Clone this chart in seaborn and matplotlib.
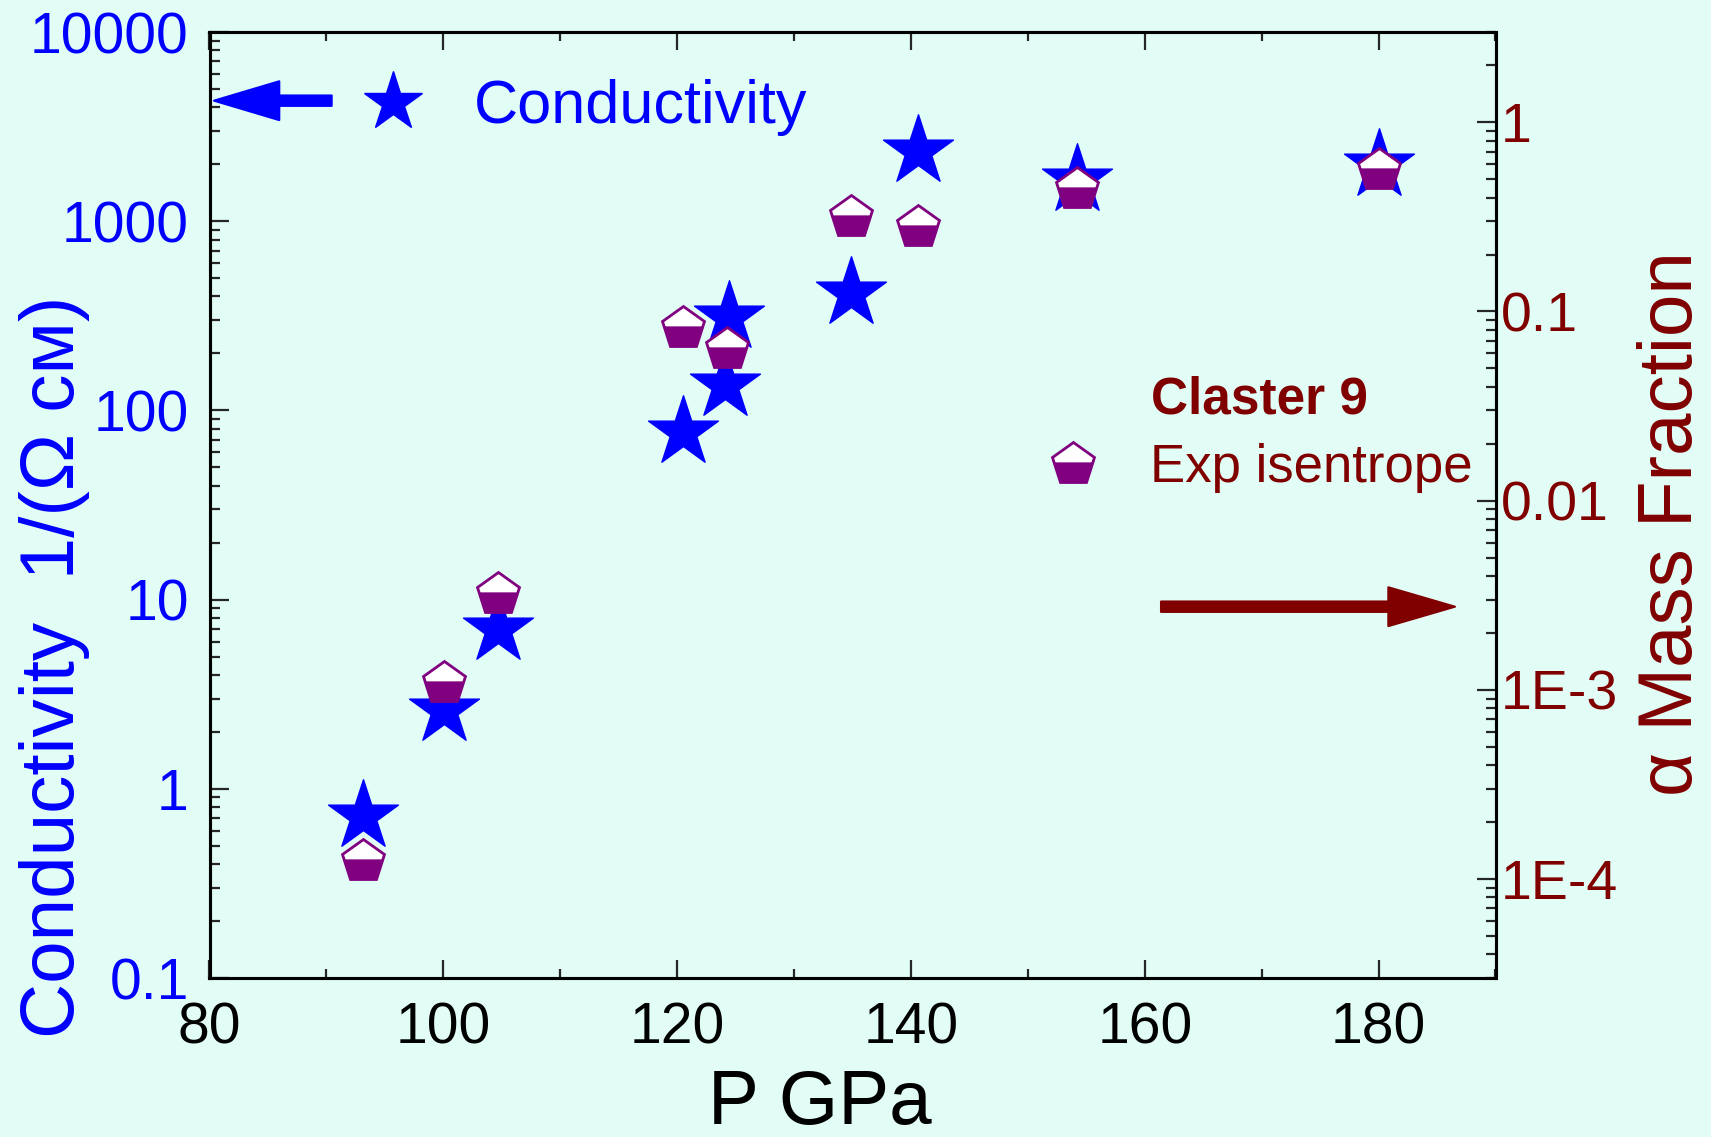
import matplotlib
matplotlib.use("Agg")
import matplotlib.pyplot as plt
from matplotlib.lines import Line2D
from matplotlib.path import Path
from matplotlib.ticker import FixedLocator, FixedFormatter, LogLocator, NullFormatter, MultipleLocator
import pandas as pd
import seaborn as sns

# Conductivity measurements (left axis)
pressure_cond = [93.1, 100.1, 104.7, 120.5, 124.1, 124.4, 134.9, 140.6, 154.2, 180.0]
conductivity = [0.72, 2.6, 7.0, 77, 136, 310, 415, 2350, 1650, 1990]

# Alpha mass fraction along the experimental isentrope (right axis)
pressure_alpha = [93.1, 100.1, 104.7, 120.5, 124.3, 134.9, 140.6, 154.2, 180.0]
alpha_fraction = [1.24e-4, 1.09e-3, 3.2e-3, 0.082, 0.063, 0.317, 0.281, 0.444, 0.559]

left_ticks = [0.1, 1, 10, 100, 1000, 10000]
left_tick_labels = ["0.1", "1", "10", "100", "1000", "10000"]
right_ticks = [1e-4, 1e-3, 1e-2, 0.1, 1]
right_tick_labels = ["1E-4", "1E-3", "0.01", "0.1", "1"]
x_ticks = [80, 100, 120, 140, 160, 180]

BG = "#E2FDF6"
BLUE = "#0000FF"
DARKRED = "#800000"
PURPLE = "#800080"

# Lower part of a regular pentagon (same frame as the 'p' marker), split just
# above its centre; the lone MOVETO to (0, 1) keeps the marker scaling equal
# to that of the full pentagon.
_split = 0.07
_xs = 0.951 - (0.309 - _split) / 1.118 * 0.363
pent_bottom = Path(
    [(-_xs, _split), (-0.588, -0.809), (0.588, -0.809), (_xs, _split), (-_xs, _split), (0.0, 1.0)],
    [Path.MOVETO, Path.LINETO, Path.LINETO, Path.LINETO, Path.CLOSEPOLY, Path.MOVETO],
)

sns.set_style("ticks", {"axes.facecolor": BG, "figure.facecolor": BG,
                        "axes.edgecolor": "black"})
plt.rcParams["font.family"] = ["Liberation Sans", "DejaVu Sans"]
plt.rcParams["axes.linewidth"] = 2.2

fig = plt.figure(figsize=(17.11, 11.37), dpi=100)
ax = fig.add_axes([209.5 / 1711, 1 - 978 / 1137, 1286 / 1711, 946 / 1137])
ax2 = ax.twinx()

cond_df = pd.DataFrame({"P": pressure_cond, "sigma": conductivity})
alpha_df = pd.DataFrame({"P": pressure_alpha, "alpha": alpha_fraction})

ax.set_yscale("log")
ax2.set_yscale("log")

sns.scatterplot(data=cond_df, x="P", y="sigma", ax=ax, marker="*", s=2800,
                color=BLUE, edgecolor=BLUE, linewidth=1.0, legend=False, zorder=3)

# Pentagons: white body with purple outline, purple lower part on top
sns.lineplot(data=alpha_df, x="P", y="alpha", ax=ax2, estimator=None, sort=False,
             color=PURPLE, linestyle="", marker="p", markersize=32,
             markerfacecolor="white", markeredgecolor=PURPLE,
             markeredgewidth=2.0, legend=False)
sns.lineplot(data=alpha_df, x="P", y="alpha", ax=ax2, estimator=None, sort=False,
             color=PURPLE, linestyle="", marker=pent_bottom, markersize=32,
             markerfacecolor=PURPLE, markeredgecolor=PURPLE,
             markeredgewidth=0.8, legend=False)

# Axes ranges
ax.set_xlim(80, 190)
ax.set_ylim(0.1, 10000)
ax2.set_ylim(3e-5, 3)

# X ticks
ax.xaxis.set_major_locator(FixedLocator(x_ticks))
ax.xaxis.set_minor_locator(MultipleLocator(10))
ax.tick_params(axis="x", which="major", direction="in", length=13, width=1.6,
               top=True, bottom=True, labelsize=41, pad=17, labelcolor="black")
ax.tick_params(axis="x", which="minor", direction="in", length=6.5, width=1.6,
               top=True, bottom=True)

# Left y ticks
ax.yaxis.set_major_locator(FixedLocator(left_ticks))
ax.yaxis.set_major_formatter(FixedFormatter(left_tick_labels))
ax.yaxis.set_minor_locator(LogLocator(base=10, subs=range(2, 10), numticks=20))
ax.yaxis.set_minor_formatter(NullFormatter())
ax.tick_params(axis="y", which="major", direction="in", length=13.5, width=1.6,
               left=True, right=False, labelsize=41, pad=15, labelcolor=BLUE)
ax.tick_params(axis="y", which="minor", direction="in", length=7, width=1.6,
               left=True, right=False)

# Right y ticks
ax2.yaxis.set_major_locator(FixedLocator(right_ticks))
ax2.yaxis.set_major_formatter(FixedFormatter(right_tick_labels))
ax2.yaxis.set_minor_locator(LogLocator(base=10, subs=range(2, 10), numticks=20))
ax2.yaxis.set_minor_formatter(NullFormatter())
ax2.tick_params(axis="y", which="major", direction="in", length=14, width=1.6,
                right=True, left=False, labelsize=40, pad=4, labelcolor=DARKRED)
ax2.tick_params(axis="y", which="minor", direction="in", length=7, width=1.6,
                right=True, left=False)

for spine in list(ax.spines.values()) + list(ax2.spines.values()):
    spine.set_linewidth(2.2)
    spine.set_color("black")

# Axis labels
ax.set_xlabel("P GPa", fontsize=55, color="black")
ax.xaxis.set_label_coords(0.4744, -0.0965)
ax.set_ylabel("Conductivity  1/(Ω см)", fontsize=55, color=BLUE)
ax.yaxis.set_label_coords(-0.093, 0.329)
ax2.set_ylabel("α Mass Fraction", fontsize=55, color=DARKRED)
ax2.yaxis.set_label_coords(1.110, 0.480)

# Legend keys
star_handle = Line2D([], [], linestyle="", marker="*", markersize=44,
                     color=BLUE, markeredgecolor=BLUE)
leg1 = ax2.legend(handles=[star_handle], labels=["Conductivity"],
                  loc="center left", bbox_to_anchor=(0.1189, 0.9197),
                  bbox_transform=ax.transAxes, frameon=False, borderpad=0,
                  borderaxespad=0, handlelength=1.0, handletextpad=0.827,
                  fontsize=44, labelcolor=BLUE)
ax2.add_artist(leg1)

pent_top = Line2D([], [], linestyle="", marker="p", markersize=32,
                  markerfacecolor="white", markeredgecolor=PURPLE,
                  markeredgewidth=2.0)
pent_low = Line2D([], [], linestyle="", marker=pent_bottom, markersize=32,
                  markerfacecolor=PURPLE, markeredgecolor=PURPLE,
                  markeredgewidth=0.8)
ax2.legend(handles=[(pent_top, pent_low)], labels=["Exp isentrope"],
           loc="center left", bbox_to_anchor=(0.6465, 0.539),
           bbox_transform=ax.transAxes, frameon=False, borderpad=0,
           borderaxespad=0, handlelength=1.2, handletextpad=0.866,
           fontsize=38, labelcolor=DARKRED)

ax2.text(0.732, 0.597, "Claster 9", transform=ax.transAxes, fontsize=37,
         fontweight="bold", color=DARKRED, ha="left", va="baseline")

# Arrows pointing to the axis each series belongs to
ax2.annotate("", xy=(0.0035, 0.9274), xytext=(0.095, 0.9274),
             xycoords=ax.transAxes, textcoords=ax.transAxes,
             arrowprops=dict(arrowstyle="simple,head_length=47,head_width=28,tail_width=7.5",
                             mutation_scale=1, fc=BLUE, ec=BLUE, lw=1.5,
                             joinstyle="round", shrinkA=0, shrinkB=0))
ax2.annotate("", xy=(0.9685, 0.3925), xytext=(0.7399, 0.3925),
             xycoords=ax.transAxes, textcoords=ax.transAxes,
             arrowprops=dict(arrowstyle="simple,head_length=48,head_width=28,tail_width=7.5",
                             mutation_scale=1, fc=DARKRED, ec=DARKRED, lw=1.5,
                             joinstyle="round", shrinkA=0, shrinkB=0))

fig.savefig("out.png", dpi=100, facecolor=BG)
